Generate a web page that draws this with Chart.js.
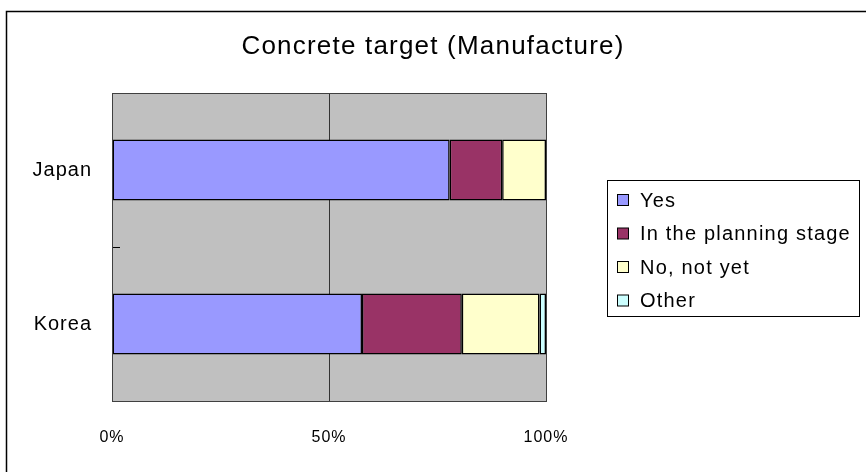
<!DOCTYPE html>
<html>
<head>
<meta charset="utf-8">
<script src="https://cdn.jsdelivr.net/npm/chart.js@4/dist/chart.umd.min.js"></script>
<style>
  html, body { margin: 0; padding: 0; background: #fff; }
  #wrap { width: 866px; height: 472px; }
</style>
</head>
<body>
<div id="wrap"><canvas id="grafico" width="866" height="472"></canvas></div>
<script>
var TITULO = "Concrete target (Manufacture)";
var PAISES = ["Japan", "Korea"];
var SERIES = ["Yes", "In the planning stage", "No, not yet", "Other"];
var SI = [77.8, 57.6];
var PLAN = [12.1, 23.0];
var NO_AUN = [10.1, 17.9];
var OTRO = [0, 1.5];
var X_TICKS = [0, 50, 100];
var COLORES = ["#9999FF", "#993366", "#FFFFCC", "#CCFFFF"];

var FUENTE = "'Liberation Sans', Arial, sans-serif";
Chart.defaults.font.family = FUENTE;
Chart.defaults.color = "#000";

// marco, fondo gris, titulo y leyenda con recuadro
var marco = {
    id: "marco",
    beforeDraw: function (chart) {
        var ctx = chart.ctx, a = chart.chartArea;
        ctx.save();
        ctx.fillStyle = "#fff";
        ctx.fillRect(0, 0, chart.width, chart.height);
        ctx.strokeStyle = "#000";
        ctx.lineWidth = 1.5;
        ctx.strokeRect(6.5, 11.5, 900, 500);
        ctx.fillStyle = "#C0C0C0";
        ctx.fillRect(a.left, a.top, a.right - a.left, a.bottom - a.top);
        ctx.restore();
        // el texto del original va algo espaciado
        ctx.letterSpacing = "1px";
    },
    afterDatasetsDraw: function (chart) {
        var ctx = chart.ctx, a = chart.chartArea;
        ctx.save();
        ctx.strokeStyle = "#404040";
        ctx.lineWidth = 1;
        ctx.strokeRect(a.left + 0.5, a.top + 0.5, a.right - a.left, a.bottom - a.top);
        ctx.restore();
    },
    afterDraw: function (chart) {
        var ctx = chart.ctx;
        ctx.save();
        ctx.letterSpacing = "1.2px";
        ctx.fillStyle = "#000";
        ctx.font = "26px " + FUENTE;
        ctx.textAlign = "center";
        ctx.textBaseline = "alphabetic";
        ctx.fillText(TITULO, 433, 54);

        ctx.strokeStyle = "#000";
        ctx.lineWidth = 1;
        ctx.strokeRect(607.5, 180.5, 252, 136);
        ctx.font = "20px " + FUENTE;
        ctx.textAlign = "left";
        ctx.textBaseline = "middle";
        chart.data.datasets.forEach(function (ds, i) {
            var y = 200 + i * 33.5;
            ctx.fillStyle = ds.backgroundColor;
            ctx.fillRect(617.5, y - 5.5, 11, 11);
            ctx.strokeRect(617.5, y - 5.5, 11, 11);
            ctx.fillStyle = "#000";
            ctx.fillText(ds.label, 640, y + 1);
        });
        ctx.restore();
    }
};

var valores = [SI, PLAN, NO_AUN, OTRO];
var ctx = document.getElementById("grafico").getContext("2d");
var miGrafico = new Chart(ctx, {
    type: "bar",
    data: {
        labels: PAISES,
        datasets: SERIES.map(function (nombre, i) {
            return {
                label: nombre,
                data: valores[i],
                backgroundColor: COLORES[i],
                borderColor: "#000",
                borderWidth: 1.5,
                borderSkipped: false,
                barPercentage: 0.395,
                categoryPercentage: 1
            };
        })
    },
    options: {
        indexAxis: "y",
        responsive: false,
        animation: false,
        layout: { padding: { top: 93, right: 320, bottom: 0, left: 0 } },
        plugins: {
            legend: { display: false },
            title: { display: false },
            tooltip: { enabled: false }
        },
        scales: {
            x: {
                stacked: true,
                min: X_TICKS[0],
                max: X_TICKS[X_TICKS.length - 1],
                afterBuildTicks: function (s) {
                    s.ticks = X_TICKS.map(function (v) { return { value: v }; });
                },
                ticks: {
                    callback: function (v) { return v + "%"; },
                    font: { size: 16 },
                    color: "#000",
                    padding: 27,
                    maxRotation: 0
                },
                grid: {
                    color: function (c) { return c.tick && c.tick.value === 50 ? "#333" : "rgba(0,0,0,0)"; },
                    drawTicks: false
                },
                border: { display: false },
                afterFit: function (s) { s.height = 71; }
            },
            y: {
                stacked: true,
                grid: {
                    offset: true,
                    drawOnChartArea: false,
                    drawTicks: true,
                    tickLength: -8,
                    color: "#000"
                },
                ticks: { font: { size: 20 }, color: "#000", padding: 28 },
                border: { display: false },
                afterFit: function (s) { s.width = 112; }
            }
        }
    },
    plugins: [marco]
});
</script>
</body>
</html>
